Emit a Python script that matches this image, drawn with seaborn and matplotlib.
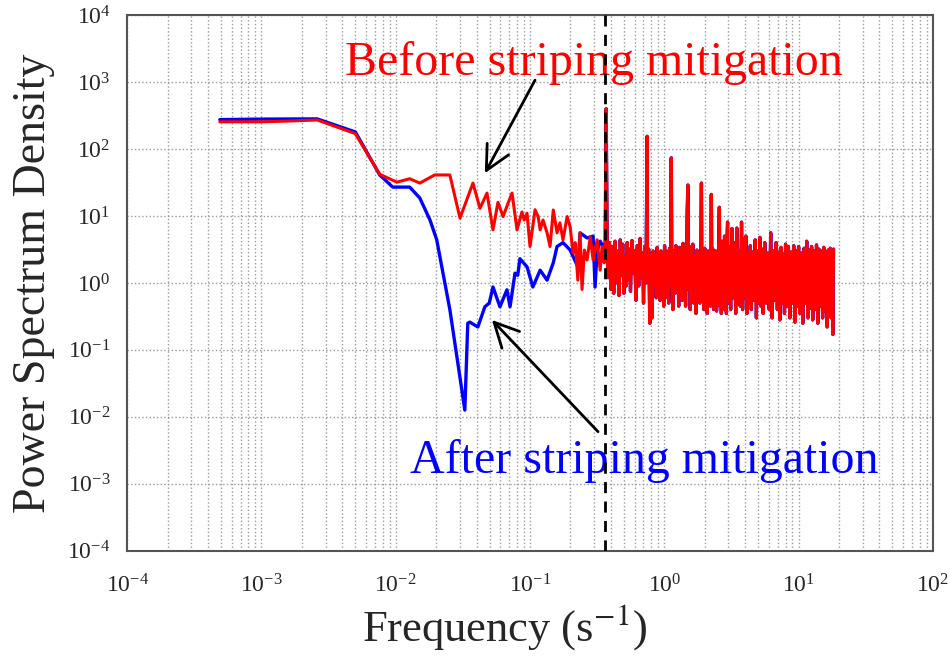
import matplotlib
matplotlib.use("Agg")
import matplotlib.pyplot as plt
import seaborn as sns
import numpy as np

# low-frequency part, before mitigation (red)
freq_red_low = [4.9e-4, 1.0e-3, 1.6e-3, 2.6e-3, 5.0e-3, 7.6e-3, 0.0102, 0.0127, 0.0151,
                0.0195, 0.0253, 0.0301, 0.0376, 0.0424, 0.0478, 0.053, 0.0577, 0.063,
                0.0686, 0.0735, 0.080, 0.0871, 0.0905, 0.095, 0.100, 0.109, 0.115,
                0.119, 0.125, 0.134, 0.141, 0.149, 0.159, 0.167, 0.176, 0.189, 0.199,
                0.209, 0.217, 0.227, 0.236, 0.244, 0.254, 0.266, 0.281, 0.295, 0.316,
                0.333, 0.344, 0.357, 0.363]
psd_red_low = [255, 255, 262, 272, 170, 42, 32, 36, 31,
               41, 41, 9.3, 31, 13, 22, 6.2, 16, 9.8,
               15.5, 22, 6.2, 11.5, 8.7, 11, 3.5, 12.4, 9.8,
               6.2, 8.7, 5.6, 3.5, 12.3, 5.6, 7.9, 4.4, 9.8, 6.9,
               2.8, 4.0, 1.1, 5.6, 0.8, 3.1, 2.2, 4.9, 2.2, 4.4,
               1.55, 3.5, 2.0, 4.4]

# low-frequency part, after mitigation (blue)
freq_blue_low = [4.9e-4, 1.0e-3, 2.6e-3, 5.0e-3, 7.6e-3, 0.0095, 0.0127, 0.0151, 0.0180,
                 0.0202, 0.0253, 0.0327, 0.0344, 0.0356, 0.0409, 0.0461, 0.0497, 0.053,
                 0.0597, 0.0673, 0.071, 0.0773, 0.081, 0.0841, 0.095, 0.105, 0.119,
                 0.134, 0.149, 0.159, 0.176, 0.199, 0.227, 0.236, 0.266, 0.295, 0.305,
                 0.316, 0.333, 0.357, 0.363]
psd_blue_low = [275, 280, 282, 180, 41, 27, 27, 18.6, 8.7,
                4.4, 0.4, 0.0126, 0.25, 0.26, 0.22, 0.44, 0.5, 0.87,
                0.44, 0.79, 0.44, 1.4, 1.3, 2.3, 1.74, 0.87, 1.55,
                1.1, 2.0, 3.5, 4.0, 3.1, 1.74, 5.6, 4.7, 5.0, 0.87,
                3.0, 4.2, 3.3, 4.0]

# high-frequency part, shared by both curves
freq_high = [0.369, 0.375, 0.38, 0.39, 0.40, 0.41, 0.42, 0.43, 0.44, 0.45, 0.46, 0.47,
             0.48, 0.49, 0.50, 0.51, 0.52, 0.53, 0.54, 0.55, 0.56, 0.575, 0.59, 0.60,
             0.615, 0.63, 0.645, 0.66, 0.675, 0.69, 0.70, 0.715, 0.73, 0.745, 0.75,
             0.765, 0.78, 0.795, 0.81, 0.825, 0.84, 0.855, 0.87, 0.885, 0.90, 0.915,
             0.93, 0.945, 0.96, 0.975, 0.99,
             1.005, 1.02, 1.035, 1.05, 1.065, 1.08, 1.095, 1.11, 1.127, 1.14, 1.16,
             1.18, 1.20, 1.22, 1.24, 1.26, 1.28, 1.30, 1.32, 1.34, 1.36, 1.38, 1.40,
             1.42, 1.44, 1.46, 1.48, 1.50, 1.52, 1.54, 1.56, 1.58, 1.60, 1.63, 1.66,
             1.69, 1.72, 1.75, 1.78, 1.81, 1.84, 1.87, 1.89, 1.91, 1.94, 1.97, 2.00,
             2.03, 2.06, 2.09, 2.12, 2.15, 2.18, 2.21, 2.24, 2.27, 2.30, 2.33, 2.36,
             2.39, 2.42, 2.45, 2.48, 2.51, 2.54, 2.57, 2.60, 2.63, 2.66, 2.69, 2.72,
             2.75, 2.78, 2.81, 2.84, 2.87, 2.90, 2.93, 2.96, 2.99,
             3.05, 3.12, 3.19, 3.26, 3.33, 3.40, 3.47, 3.54, 3.61, 3.68, 3.76, 3.83,
             3.90, 3.97, 4.05, 4.13, 4.21, 4.29, 4.37, 4.45, 4.55, 4.65, 4.75, 4.85,
             4.95, 5.05, 5.15, 5.25, 5.35, 5.45, 5.6, 5.75, 5.9, 6.05, 6.2, 6.35,
             6.5, 6.65, 6.8, 6.95, 7.1, 7.25, 7.4, 7.55, 7.7, 7.85, 8.0, 8.2, 8.4,
             8.6, 8.8, 9.0, 9.2, 9.4, 9.6, 9.8, 10.0, 10.25, 10.5, 10.75, 11.0,
             11.25, 11.5, 11.75, 12.0, 12.25, 12.5, 12.75, 13.0, 13.3, 13.6, 13.9,
             14.2, 14.5, 14.8, 15.1, 15.4, 15.7, 16.0, 16.3, 16.6, 16.9, 17.2, 17.5,
             17.8, 18.0, 18.2]
psd_high = [400, 6.0, 1.2, 4.0, 0.8, 3.5, 0.7, 4.2, 1.0, 3.0, 0.65, 4.4,
            1.3, 3.8, 0.7, 2.5, 0.9, 4.0, 1.1, 3.2, 0.75, 4.3, 1.4, 3.0,
            0.55, 3.6, 0.9, 4.6, 1.2, 2.8, 0.5, 3.5, 1.0, 155, 1.5,
            3.2, 0.25, 2.7, 0.3, 3.0, 0.9, 2.6, 0.6, 3.4, 1.0, 2.4,
            0.55, 3.0, 0.8, 2.5, 0.45,
            3.6, 0.6, 3.0, 0.8, 2.2, 0.5, 3.3, 1.0, 74, 1.2, 0.4,
            3.0, 0.7, 3.6, 0.9, 2.4, 0.45, 3.4, 0.8, 2.6, 0.55, 3.9, 1.0,
            3.0, 0.45, 2.2, 12, 29, 0.8, 3.5, 0.4, 2.8, 0.6, 3.8, 0.5,
            2.5, 0.35, 3.1, 0.7, 2.6, 0.5, 4.0, 31, 0.6, 2.9, 0.4, 3.3,
            0.55, 2.4, 0.35, 3.0, 0.6, 2.6, 0.45, 21, 0.5, 3.2, 0.4, 2.5,
            0.7, 3.0, 0.38, 2.2, 0.5, 3.4, 13.5, 0.45, 2.8, 0.35, 4.2, 0.6,
            3.0, 0.4, 5.0, 0.5, 2.6, 0.35, 4.5, 8.1, 0.5,
            3.5, 0.4, 6.5, 0.6, 4.0, 0.35, 6.6, 0.5, 3.0, 0.45, 8.1, 0.4,
            4.5, 0.6, 5.0, 0.35, 2.8, 0.5, 3.6, 0.4, 2.9, 0.55, 4.4, 0.3,
            3.0, 0.5, 4.8, 0.45, 3.2, 0.35, 4.0, 0.5, 2.8, 0.4, 5.6, 0.3,
            3.0, 0.55, 4.0, 0.4, 2.9, 0.28, 3.4, 0.5, 2.7, 0.35, 3.8, 0.45, 3.5,
            0.3, 2.9, 0.5, 3.6, 0.26, 3.0, 0.45, 3.5, 0.35, 2.8, 0.25, 3.3,
            0.5, 4.2, 0.3, 3.1, 0.42, 3.5, 0.28, 3.0, 0.4, 3.7, 0.25,
            3.2, 0.45, 3.0, 0.3, 3.4, 0.38, 2.9, 0.22, 3.1, 0.35, 3.3, 0.3,
            3.0, 0.17, 3.2]

stripe_freq = 0.363

sns.set_style("white")
plt.rcParams["font.family"] = ["Liberation Serif", "DejaVu Serif"]
plt.rcParams["mathtext.fontset"] = "stix"

fig = plt.figure(figsize=(9.49, 6.58), dpi=100)
ax = fig.add_axes([0.134, 0.163, 0.849, 0.814])
ax.set_xscale("log")
ax.set_yscale("log")

blue_x = freq_blue_low + freq_high
blue_y = psd_blue_low + psd_high
red_x = freq_red_low + freq_high
red_y = psd_red_low + psd_high

sns.lineplot(x=blue_x, y=blue_y, ax=ax, color="#0000ff", lw=2.4, estimator=None, sort=False)
sns.lineplot(x=red_x, y=red_y, ax=ax, color="#ff0000", lw=2.2, estimator=None, sort=False)

ax.axvline(stripe_freq, color="black", ls=(0, (4, 3)), lw=2, zorder=5)

ax.set_xlim(1e-4, 1e2)
ax.set_ylim(1e-4, 1e4)
ax.set_xticks([10.0 ** k for k in range(-4, 3)])
ax.set_yticks([10.0 ** k for k in range(-4, 5)])
ax.yaxis.set_minor_locator(matplotlib.ticker.LogLocator(base=10, subs=np.arange(2, 10), numticks=20))
ax.xaxis.set_minor_locator(matplotlib.ticker.LogLocator(base=10, subs=np.arange(2, 10), numticks=20))
ax.yaxis.set_minor_formatter(matplotlib.ticker.NullFormatter())
ax.xaxis.set_minor_formatter(matplotlib.ticker.NullFormatter())

# dotted grid: vertical lines at every tick, horizontal only at decades
ax.grid(True, which="both", axis="x", ls=":", color="#9a9a9a", lw=1.0)
ax.grid(True, which="major", axis="y", ls=":", color="#9a9a9a", lw=1.0)
ax.tick_params(which="major", direction="in", length=11, width=1.2, labelsize=17, color="#333333")
ax.tick_params(axis="x", which="major", pad=17)
ax.tick_params(axis="y", which="major", pad=12)
ax.tick_params(which="minor", direction="in", length=6, width=1.0, color="#333333")
for s in ax.spines.values():
    s.set_color("#555555")
    s.set_linewidth(1.5)

ax.set_xlabel("Frequency (s$^{-1}$)", fontsize=32)
ax.set_ylabel("Power Spectrum Density", fontsize=33)
ax.xaxis.set_label_coords(0.469, -0.095)
ax.yaxis.set_label_coords(-0.09, 0.5)

ax.text(4.16e-3, 1270, "Before striping mitigation", color="#ff0000", fontsize=34.5, va="baseline")
ax.text(0.0127, 1.46e-3, "After striping mitigation", color="#0000ff", fontsize=34.5, va="baseline")

arrow = dict(arrowstyle="->,head_length=0.7,head_width=0.35", lw=2.0, color="black",
             shrinkA=0, shrinkB=0, mutation_scale=25)
ax.annotate("", xy=(0.0461, 43.5), xytext=(0.109, 1070), arrowprops=arrow)
ax.annotate("", xy=(0.052, 0.28), xytext=(0.321, 0.006), arrowprops=arrow)

fig.savefig("out.png", dpi=100)
